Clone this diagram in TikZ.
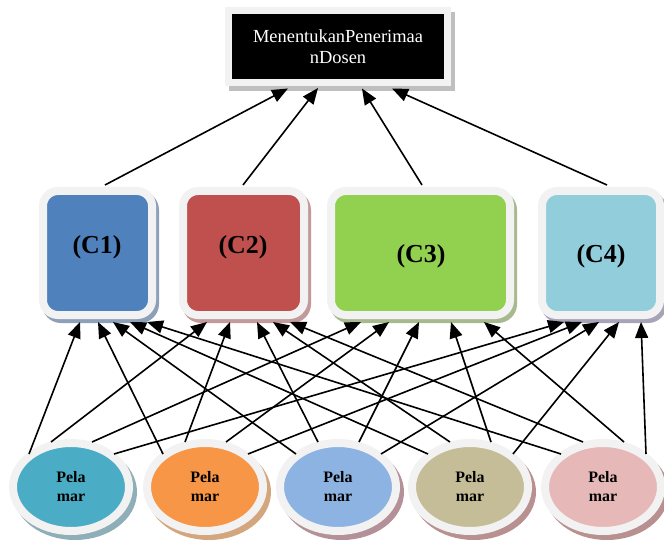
\documentclass[tikz,border=0pt]{standalone}
\usepackage{fontspec}
\setmainfont{Liberation Serif}
\usetikzlibrary{arrows.meta,calc,shapes.geometric}
\definecolor{framegray}{HTML}{F2F2F2}
\definecolor{topshadow}{HTML}{BFBFBF}
\definecolor{cA}{HTML}{4F81BD}\definecolor{cAs}{HTML}{8EA0B8}
\definecolor{cB}{HTML}{C0504D}\definecolor{cBs}{HTML}{C39A9A}
\definecolor{cC}{HTML}{92D050}\definecolor{cCs}{HTML}{A9B98F}
\definecolor{cD}{HTML}{92CDDC}\definecolor{cDs}{HTML}{A9A3B8}
\definecolor{eA}{HTML}{4BACC6}\definecolor{eAs}{HTML}{8FAFB8}
\definecolor{eB}{HTML}{F79646}\definecolor{eBs}{HTML}{D4A67E}
\definecolor{eC}{HTML}{8DB3E2}\definecolor{eCs}{HTML}{B49198}
\definecolor{eD}{HTML}{C4BD97}\definecolor{eDs}{HTML}{B89090}
\definecolor{eE}{HTML}{E6B9B8}\definecolor{eEs}{HTML}{B89090}
\tikzset{
  tbox/.style={rectangle, draw=framegray, line width=7bp, fill=black,
    minimum width=219bp, minimum height=72bp, inner sep=0pt,
    preaction={fill=topshadow, draw=topshadow, line width=7bp,
      transform canvas={shift={(4bp,-5bp)}}},
    text=white, align=center, font=\fontsize{18.5}{21}\selectfont},
  cbox/.style n args={3}{rectangle, draw=framegray, line width=8bp, fill=#1,
    rounded corners=15bp, minimum width=#3, minimum height=124bp, inner sep=0pt,
    preaction={fill=#2, draw=#2, line width=8bp,
      transform canvas={shift={(3bp,-4bp)}}}},
  ctext/.style={font=\bfseries\fontsize{26}{30}\selectfont},
  ebox/.style 2 args={ellipse, draw=framegray, line width=8bp, fill=#1,
    minimum width=116bp, minimum height=88bp, inner sep=0pt,
    preaction={fill=#2, draw=#2, line width=8bp,
      transform canvas={shift={(4bp,-5bp)}}},
    align=center, font=\bfseries\fontsize{16}{19}\selectfont},
  conn/.style={draw=black, line width=1.6bp, -{Triangle[length=16bp,width=13bp]}}
}
\begin{document}
\begin{tikzpicture}[x=1bp,y=-1bp]
\useasboundingbox (0,0) rectangle (664,540);
% top box
\node[tbox] (T) at (338,46.5) {MenentukanPenerimaa\\nDosen};
% criteria boxes
\node[cbox={cA}{cAs}{109bp}] (C1) at (97.5,253) {};
\node[cbox={cB}{cBs}{121bp}] (C2) at (243.5,253) {};
\node[cbox={cC}{cCs}{179bp}] (C3) at (420.5,253) {};
\node[cbox={cD}{cDs}{118bp}] (C4) at (601,253) {};
\node[ctext] (C1t) at (97,247) {(C1)};
\node[ctext] (C2t) at (243,247) {(C2)};
\node[ctext] (C3t) at (421,256) {(C3)};
\node[ctext] (C4t) at (601,256) {(C4)};
% applicants
\node[ebox={eA}{eAs}] (E1) at (71,487) {Pela\\mar};
\node[ebox={eB}{eBs}] (E2) at (205,487) {Pela\\mar};
\node[ebox={eC}{eCs}] (E3) at (338,487) {Pela\\mar};
\node[ebox={eD}{eDs}] (E4) at (470,487) {Pela\\mar};
\node[ebox={eE}{eEs}] (E5) at (603,487) {Pela\\mar};
% criteria -> goal
\draw[conn] ($(C1.north)+(7.5,-2)$) -- ($(T.south)+(-50,2.5)$);
\draw[conn] ($(C2.north)+(-0.5,-2)$) -- ($(T.south)+(-20,2)$);
\draw[conn] ($(C3.north)+(1.5,-2)$) -- ($(T.south)+(24,2.5)$);
\draw[conn] ($(C4.north)+(6,-2)$) -- ($(T.south)+(54,2.5)$);
% applicants -> criteria
\draw[conn] ($(E1.center)+(-42,-33)$) -- ($(C1.south)+(-17.5,3)$);
\draw[conn] ($(E2.center)+(-42,-33)$) -- ($(C1.south)+(0.5,3)$);
\draw[conn] ($(E3.center)+(-42,-33)$) -- ($(C1.south)+(15.5,3)$);
\draw[conn] ($(E4.center)+(-42,-33)$) -- ($(C1.south)+(32.5,3)$);
\draw[conn] ($(E5.center)+(-42,-33)$) -- ($(C1.south)+(49.5,3)$);
\draw[conn] ($(E1.center)+(-20,-45)$) -- ($(C2.south)+(-36.5,3)$);
\draw[conn] ($(E2.center)+(-20,-45)$) -- ($(C2.south)+(-13.5,3)$);
\draw[conn] ($(E3.center)+(-20,-45)$) -- ($(C2.south)+(13.5,3)$);
\draw[conn] ($(E4.center)+(-20,-45)$) -- ($(C2.south)+(29.5,3)$);
\draw[conn] ($(E5.center)+(-20,-45)$) -- ($(C2.south)+(46.5,3)$);
\draw[conn] ($(E1.center)+(21,-45)$) -- ($(C3.south)+(-59.5,3)$);
\draw[conn] ($(E2.center)+(21,-45)$) -- ($(C3.south)+(-31.5,3)$);
\draw[conn] ($(E3.center)+(21,-45)$) -- ($(C3.south)+(-1.5,3)$);
\draw[conn] ($(E4.center)+(21,-45)$) -- ($(C3.south)+(30.5,3)$);
\draw[conn] ($(E5.center)+(21,-45)$) -- ($(C3.south)+(63.5,3)$);
\draw[conn] ($(E1.center)+(43,-33)$) -- ($(C4.south)+(-37,3)$);
\draw[conn] ($(E2.center)+(43,-33)$) -- ($(C4.south)+(-19,3)$);
\draw[conn] ($(E3.center)+(43,-33)$) -- ($(C4.south)+(-2,3)$);
\draw[conn] ($(E4.center)+(43,-33)$) -- ($(C4.south)+(18,3)$);
\draw[conn] ($(E5.center)+(43,-33)$) -- ($(C4.south)+(40,3)$);
\end{tikzpicture}
\end{document}
